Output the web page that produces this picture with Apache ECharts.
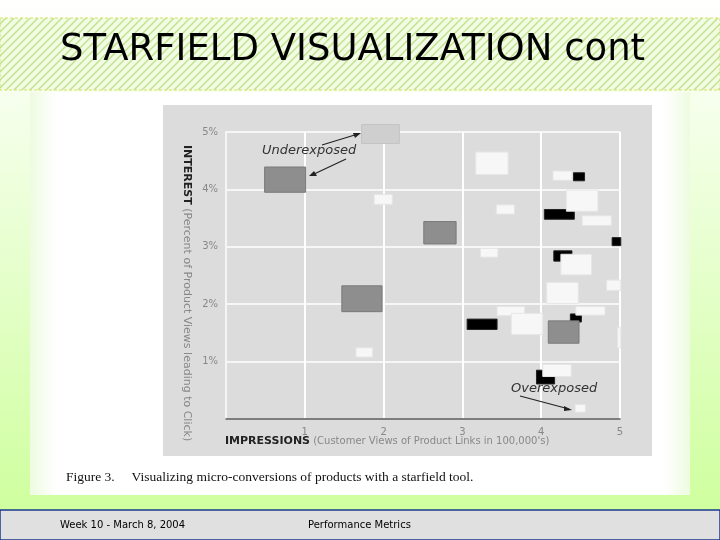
<!DOCTYPE html>
<html><head><meta charset="utf-8">
<script src="https://cdn.jsdelivr.net/npm/echarts@6/dist/echarts.min.js"></script>
<style>html,body{margin:0;padding:0;}#c{width:720px;height:540px;}</style>
</head><body><div id="c"></div>
<script>
const xTicks = [1,2,3,4,5];
const yTicks = ['1%','2%','3%','4%','5%'];
// rectangles: [x0, x1, y0, y1] in impressions (100,000's) and interest (%)
const blackRects = [[4.41,4.55,4.15,4.29],[4.04,4.42,3.48,3.65],[4.90,5.01,3.02,3.16],[4.16,4.39,2.75,2.93],[3.06,3.44,1.56,1.74],[4.37,4.51,1.69,1.83],[3.94,4.17,0.61,0.85]];
const grayRects = [[0.49,1.01,3.95,4.39],[2.51,2.92,3.05,3.44],[1.47,1.98,1.87,2.32],[4.09,4.48,1.32,1.71]];
const lightRects = [[1.72,2.20,4.80,5.13]];
const whiteRects = [[3.17,3.58,4.26,4.65],[4.15,4.39,4.16,4.32],[4.32,4.72,3.62,3.99],[1.88,2.11,3.74,3.91],[3.43,3.66,3.57,3.73],[4.52,4.89,3.37,3.54],[3.23,3.45,2.82,2.97],[4.25,4.64,2.51,2.87],[4.07,4.47,2.01,2.38],[4.83,5.01,2.24,2.42],[3.44,3.79,1.80,1.96],[4.44,4.81,1.81,1.96],[3.62,4.02,1.47,1.84],[4.97,5.01,1.24,1.59],[1.65,1.86,1.08,1.24],[4.02,4.38,0.74,0.95],[4.43,4.56,0.12,0.25]];

const chart = echarts.init(document.getElementById('c'));
const pc = document.createElement('canvas'); pc.width = 8; pc.height = 8;
const g = pc.getContext('2d'); g.fillStyle = '#f2fbe4'; g.fillRect(0,0,8,8);
g.strokeStyle = '#bfe28a'; g.lineWidth = 1.4;
g.beginPath(); g.moveTo(0,8); g.lineTo(8,0); g.moveTo(-2,2); g.lineTo(2,-2); g.moveTo(6,10); g.lineTo(10,6); g.stroke();

function rectSeries(data, color, border) {
  return {
    type: 'custom', clip: false, z: 3,
    data: data,
    renderItem: function (params, api) {
      const p0 = api.coord([api.value(0), api.value(3)]);
      const p1 = api.coord([api.value(1), api.value(2)]);
      return { type: 'rect', shape: { x: p0[0], y: p0[1], width: p1[0]-p0[0], height: p1[1]-p0[1] },
        style: { fill: color, stroke: border, lineWidth: 1 } };
    },
    encode: { x: [0,1], y: [2,3] }
  };
}

chart.setOption({
  animation: false,
  backgroundColor: {type:'linear', x:0,y:0,x2:0,y2:1, colorStops:[{offset:0,color:'#ffffff'},{offset:1,color:'#ccff99'}]},
  graphic: [
    {type:'rect', shape:{x:0,y:18,width:720,height:72}, style:{fill:{image:pc, repeat:'repeat'}, stroke:'#d8e060', lineDash:[3,2], lineWidth:1}, z:0},
    {type:'text', left:60, top:32, style:{text:'STARFIELD VISUALIZATION cont', font:'37px "DejaVu Sans"', fill:'#000'}, z:1},
    {type:'rect', shape:{x:30,y:92,width:660,height:403}, style:{fill:{type:'linear',x:0,y:0,x2:1,y2:0,colorStops:[{offset:0,color:'#eefbe0'},{offset:0.04,color:'#ffffff'},{offset:0.96,color:'#ffffff'},{offset:1,color:'#eefbe0'}]}}, z:0},
    {type:'rect', shape:{x:163,y:105,width:489,height:351}, style:{fill:'#dcdcdc'}, z:0},
    {type:'text', left:66, top:470, style:{text:'Figure 3.     Visualizing micro-conversions of products with a starfield tool.', font:'13.5px "Liberation Serif"', fill:'#111'}, z:1},
    {type:'rect', shape:{x:0,y:510,width:720,height:30}, style:{fill:'#e0e0e0', stroke:'#1a3a8a', lineWidth:1.5}, z:0},
    {type:'text', left:60, top:520, style:{text:'Week 10 - March 8, 2004', font:'10px "DejaVu Sans"', fill:'#000'}, z:1},
    {type:'text', left:308, top:520, style:{text:'Performance Metrics', font:'10px "DejaVu Sans"', fill:'#000'}, z:1},
    {type:'text', x:192, y:145, rotation:-Math.PI/2, style:{text:'{b|INTEREST} (Percent of Product Views leading to Click)', rich:{b:{font:'bold 11px "DejaVu Sans"', fill:'#222'}}, font:'11px "DejaVu Sans"', fill:'#888'}, z:5},
    {type:'text', left:225, top:436, style:{text:'{b|IMPRESSIONS} (Customer Views of Product Links in 100,000\'s)', rich:{b:{font:'bold 11px "DejaVu Sans"', fill:'#222'}}, font:'10px "DejaVu Sans"', fill:'#888'}, z:5},
    {type:'text', left:262, top:144, style:{text:'Underexposed', font:'italic 13px "DejaVu Sans"', fill:'#333'}, z:5},
    {type:'text', left:511, top:382, style:{text:'Overexposed', font:'italic 13px "DejaVu Sans"', fill:'#333'}, z:5},
    {type:'line', shape:{x1:322,y1:145,x2:358,y2:134}, style:{stroke:'#222', lineWidth:1.2}, z:5},
    {type:'polygon', shape:{points:[[361,133],[353,133],[355,138]]}, style:{fill:'#222'}, z:5},
    {type:'line', shape:{x1:346,y1:159,x2:312,y2:175}, style:{stroke:'#222', lineWidth:1.2}, z:5},
    {type:'polygon', shape:{points:[[309,176],[317,176],[314,171]]}, style:{fill:'#222'}, z:5},
    {type:'line', shape:{x1:520,y1:396,x2:569,y2:409}, style:{stroke:'#222', lineWidth:1.2}, z:5},
    {type:'polygon', shape:{points:[[572,410],[564,406],[564,411]]}, style:{fill:'#222'}, z:5}
  ],
  grid: {left:226, right:100, top:132, bottom:121},
  xAxis: {type:'value', min:0, max:5, interval:1,
    axisLine:{show:true, lineStyle:{color:'#555', width:1.5}}, axisTick:{show:false},
    axisLabel:{color:'#888', fontSize:10, fontFamily:'DejaVu Sans', formatter: v => xTicks.includes(v) ? String(v) : ''},
    splitLine:{show:true, lineStyle:{color:'#ffffff', width:2}}},
  yAxis: {type:'value', min:0, max:5, interval:1,
    axisLine:{show:true, onZero:false, lineStyle:{color:'#f5f5f5', width:2}}, axisTick:{show:false},
    axisLabel:{color:'#888', fontSize:10, fontFamily:'DejaVu Sans', formatter: v => v>0 ? yTicks[v-1] : ''},
    splitLine:{show:true, lineStyle:{color:'#ffffff', width:1.5}}},
  series: [
    rectSeries(blackRects, '#000000', '#222'),
    rectSeries(grayRects, '#8e8e8e', '#7a7a7a'),
    rectSeries(lightRects, '#cfcfcf', '#c4c4c4'),
    rectSeries(whiteRects, '#f7f7f7', '#e6e6e6')
  ]
});
</script></body></html>
